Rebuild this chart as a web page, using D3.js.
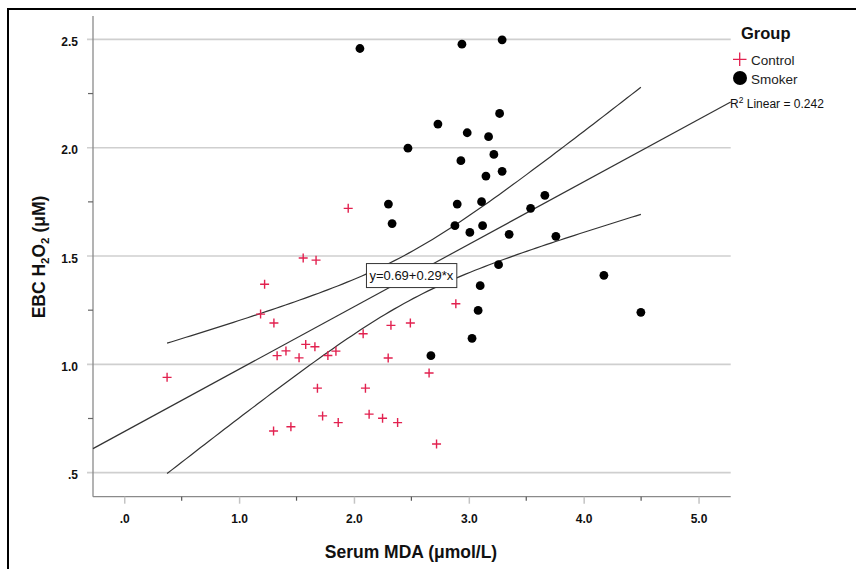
<!DOCTYPE html>
<html>
<head>
<meta charset="utf-8">
<script src="https://cdn.jsdelivr.net/npm/d3@7"></script>
<style>
  html, body { margin: 0; padding: 0; background: #fff; }
  svg { display: block; }
</style>
</head>
<body>
<svg id="chart" width="856" height="569"></svg>
<script>
// ---------------- DATA ----------------
const controlMDA = [0.373,1.187,1.222,1.303,1.331,1.408,1.522,1.580,1.660,1.558,1.670,1.950,1.682,1.773,1.843,1.300,1.451,1.727,1.863,2.080,2.100,2.132,2.249,2.380,2.322,2.298,2.491,2.654,2.719,2.887];
const controlH2O2 = [0.940,1.232,1.370,1.191,1.040,1.062,1.030,1.092,1.081,1.491,1.481,1.720,0.890,1.041,1.061,0.692,0.712,0.762,0.731,1.141,0.890,0.770,0.751,0.731,1.180,1.029,1.191,0.960,0.632,1.280];
const smokerMDA = [2.052,2.940,3.290,3.268,2.731,2.986,3.172,2.470,3.218,2.931,3.290,3.149,3.662,2.300,2.899,3.111,3.538,2.332,2.879,3.120,3.009,3.351,3.758,3.259,4.176,3.099,3.081,4.498,3.028,2.670];
const smokerH2O2 = [2.458,2.478,2.498,2.158,2.109,2.069,2.051,1.998,1.969,1.940,1.891,1.869,1.780,1.740,1.740,1.751,1.720,1.650,1.640,1.640,1.609,1.600,1.591,1.460,1.411,1.363,1.249,1.240,1.120,1.040];

const xTickValues = [0, 1, 2, 3, 4, 5];
const xTickLabels = [".0", "1.0", "2.0", "3.0", "4.0", "5.0"];
const yTickValues = [0.5, 1.0, 1.5, 2.0, 2.5];
const yTickLabels = [".5", "1.0", "1.5", "2.0", "2.5"];
const xMinorTicks = [0.5, 1.5, 2.5, 3.5, 4.5];
const yMinorTicks = [0.75, 1.25, 1.75, 2.25];
const xDomain = [-0.272, 5.28];
const yDomain = [0.389, 2.608];

const groupNames = ["Control", "Smoker"];
const fitLabel = "y=0.69+0.29*x";
const fitLabelAt = 2.5;
const r2Text = "Linear = 0.242";
const tCrit = 2.0017; // t(0.975, df=58)

// ---------------- LAYOUT ----------------
const svg = d3.select("#chart");
const L = 93, R = 730.7, T = 16, B = 496.7;
const x = d3.scaleLinear().domain(xDomain).range([L, R]);
const y = d3.scaleLinear().domain(yDomain).range([B, T]);
const sans = "'Liberation Sans', Arial, sans-serif";
const red = "#e2214f";

// Outer frame
svg.append("path").attr("d", "M8,575 V9 H862")
  .attr("fill", "none").attr("stroke", "#000").attr("stroke-width", 2);

// Gridlines
svg.append("g").selectAll("line").data(yTickValues).join("line")
  .attr("x1", L - 6).attr("x2", R)
  .attr("y1", d => y(d)).attr("y2", d => y(d))
  .attr("stroke", "#cfcfcf").attr("stroke-width", 1.6);

// Axes lines
svg.append("line").attr("x1", L).attr("x2", L).attr("y1", T).attr("y2", B)
  .attr("stroke", "#8a8a8a").attr("stroke-width", 1.3);
svg.append("line").attr("x1", L).attr("x2", R).attr("y1", B).attr("y2", B)
  .attr("stroke", "#8a8a8a").attr("stroke-width", 1.3);

// X axis with d3 axis
const xAxis = d3.axisBottom(x).tickValues(xTickValues)
  .tickFormat((d, i) => xTickLabels[i]).tickSize(7).tickPadding(10.5);
const gx = svg.append("g").attr("transform", `translate(0,${B})`).call(xAxis);
gx.select(".domain").remove();
gx.selectAll(".tick line").attr("stroke", "#c4c4c4").attr("stroke-width", 1.5);
gx.selectAll(".tick text").attr("font-family", sans).attr("font-weight", "bold")
  .attr("font-size", 12).attr("fill", "#111");
svg.append("g").selectAll("line").data(xMinorTicks).join("line")
  .attr("x1", d => x(d)).attr("x2", d => x(d)).attr("y1", B).attr("y2", B + 4)
  .attr("stroke", "#555").attr("stroke-width", 1.2);

// Y axis
const yAxis = d3.axisLeft(y).tickValues(yTickValues)
  .tickFormat((d, i) => yTickLabels[i]).tickSize(0).tickPadding(15);
const gy = svg.append("g").attr("transform", `translate(${L},0)`).call(yAxis);
gy.select(".domain").remove();
gy.selectAll(".tick text").attr("font-family", sans).attr("font-weight", "bold")
  .attr("font-size", 12).attr("fill", "#111").attr("y", 2.3);
svg.append("g").selectAll("line").data(yMinorTicks).join("line")
  .attr("x1", L - 5).attr("x2", L).attr("y1", d => y(d)).attr("y2", d => y(d))
  .attr("stroke", "#666").attr("stroke-width", 1.2);

// Axis titles
svg.append("text").attr("x", 411).attr("y", 558).attr("text-anchor", "middle")
  .attr("font-family", sans).attr("font-weight", "bold").attr("font-size", 17.5)
  .attr("fill", "#111").text("Serum MDA (μmol/L)");
const yt = svg.append("text").attr("transform", "translate(45,257) rotate(-90)")
  .attr("text-anchor", "middle").attr("font-family", sans).attr("font-weight", "bold")
  .attr("font-size", 17.5).attr("fill", "#111");
yt.append("tspan").text("EBC H");
yt.append("tspan").attr("font-size", 11.5).attr("dy", 4).text("2");
yt.append("tspan").attr("dy", -4).text("O");
yt.append("tspan").attr("font-size", 11.5).attr("dy", 4).text("2");
yt.append("tspan").attr("dy", -4).text(" (μM)");

// ---------------- REGRESSION (from the data) ----------------
const allX = controlMDA.concat(smokerMDA);
const allY = controlH2O2.concat(smokerH2O2);
const n = allX.length;
const mx = d3.mean(allX), my = d3.mean(allY);
const sxx = d3.sum(allX, v => (v - mx) ** 2);
const sxy = d3.sum(allX.map((v, i) => (v - mx) * (allY[i] - my)));
const slope = sxy / sxx, intercept = my - slope * mx;
const sse = d3.sum(allX.map((v, i) => (allY[i] - (intercept + slope * v)) ** 2));
const s = Math.sqrt(sse / (n - 2));
const fit = v => intercept + slope * v;
const half = v => tCrit * s * Math.sqrt(1 / n + (v - mx) ** 2 / sxx);

const lineGen = d3.line().x(d => x(d[0])).y(d => y(d[1]));
const [xmin, xmax] = d3.extent(allX);
const ciXs = d3.range(0, 101).map(i => xmin + (xmax - xmin) * i / 100);

svg.append("path").datum(xDomain.map(v => [v, fit(v)])).attr("d", lineGen)
  .attr("fill", "none").attr("stroke", "#333").attr("stroke-width", 1.2);
svg.append("path").datum(ciXs.map(v => [v, fit(v) + half(v)])).attr("d", lineGen)
  .attr("fill", "none").attr("stroke", "#333").attr("stroke-width", 1.2);
svg.append("path").datum(ciXs.map(v => [v, fit(v) - half(v)])).attr("d", lineGen)
  .attr("fill", "none").attr("stroke", "#333").attr("stroke-width", 1.2);

// ---------------- POINTS ----------------
const ctrl = controlMDA.map((v, i) => [v, controlH2O2[i]]);
const smk = smokerMDA.map((v, i) => [v, smokerH2O2[i]]);
svg.append("g").selectAll("path").data(ctrl).join("path")
  .attr("d", d => `M${x(d[0]) - 4.5},${y(d[1])}h9M${x(d[0])},${y(d[1]) - 4.5}v9`)
  .attr("stroke", red).attr("stroke-width", 1.4).attr("fill", "none");
svg.append("g").selectAll("circle").data(smk).join("circle")
  .attr("cx", d => x(d[0])).attr("cy", d => y(d[1])).attr("r", 4.4).attr("fill", "#000");

// Fit label box
const lx = x(fitLabelAt), ly = y(fit(fitLabelAt));
const lbl = svg.append("g");
const lt = lbl.append("text").attr("x", lx).attr("y", ly + 4.5).attr("text-anchor", "middle")
  .attr("font-family", sans).attr("font-size", 13).attr("fill", "#111").text(fitLabel);
const bb = lt.node().getBBox();
lbl.insert("rect", "text").attr("x", bb.x - 3).attr("y", ly - 12).attr("width", bb.width + 6)
  .attr("height", 24).attr("fill", "#fff").attr("stroke", "#333").attr("stroke-width", 1);

// ---------------- LEGEND ----------------
svg.append("text").attr("x", 741).attr("y", 39).attr("font-family", sans)
  .attr("font-weight", "bold").attr("font-size", 16.5).attr("fill", "#111").text("Group");
svg.append("path").attr("d", "M733,59.3h13.5M739.7,52.5v13.5")
  .attr("stroke", red).attr("stroke-width", 1.3);
svg.append("text").attr("x", 751).attr("y", 64.5).attr("font-family", sans)
  .attr("font-size", 13.5).attr("fill", "#222").text(groupNames[0]);
svg.append("circle").attr("cx", 740).attr("cy", 78).attr("r", 7).attr("fill", "#000");
svg.append("text").attr("x", 751).attr("y", 83.5).attr("font-family", sans)
  .attr("font-size", 13.5).attr("fill", "#222").text(groupNames[1]);
const r2 = svg.append("text").attr("x", 730).attr("y", 107.5).attr("font-family", sans)
  .attr("font-size", 12).attr("fill", "#111");
r2.append("tspan").text("R");
r2.append("tspan").attr("font-size", 8.5).attr("dy", -5).text("2");
r2.append("tspan").attr("dy", 5).text(" " + r2Text);
</script>
</body>
</html>
